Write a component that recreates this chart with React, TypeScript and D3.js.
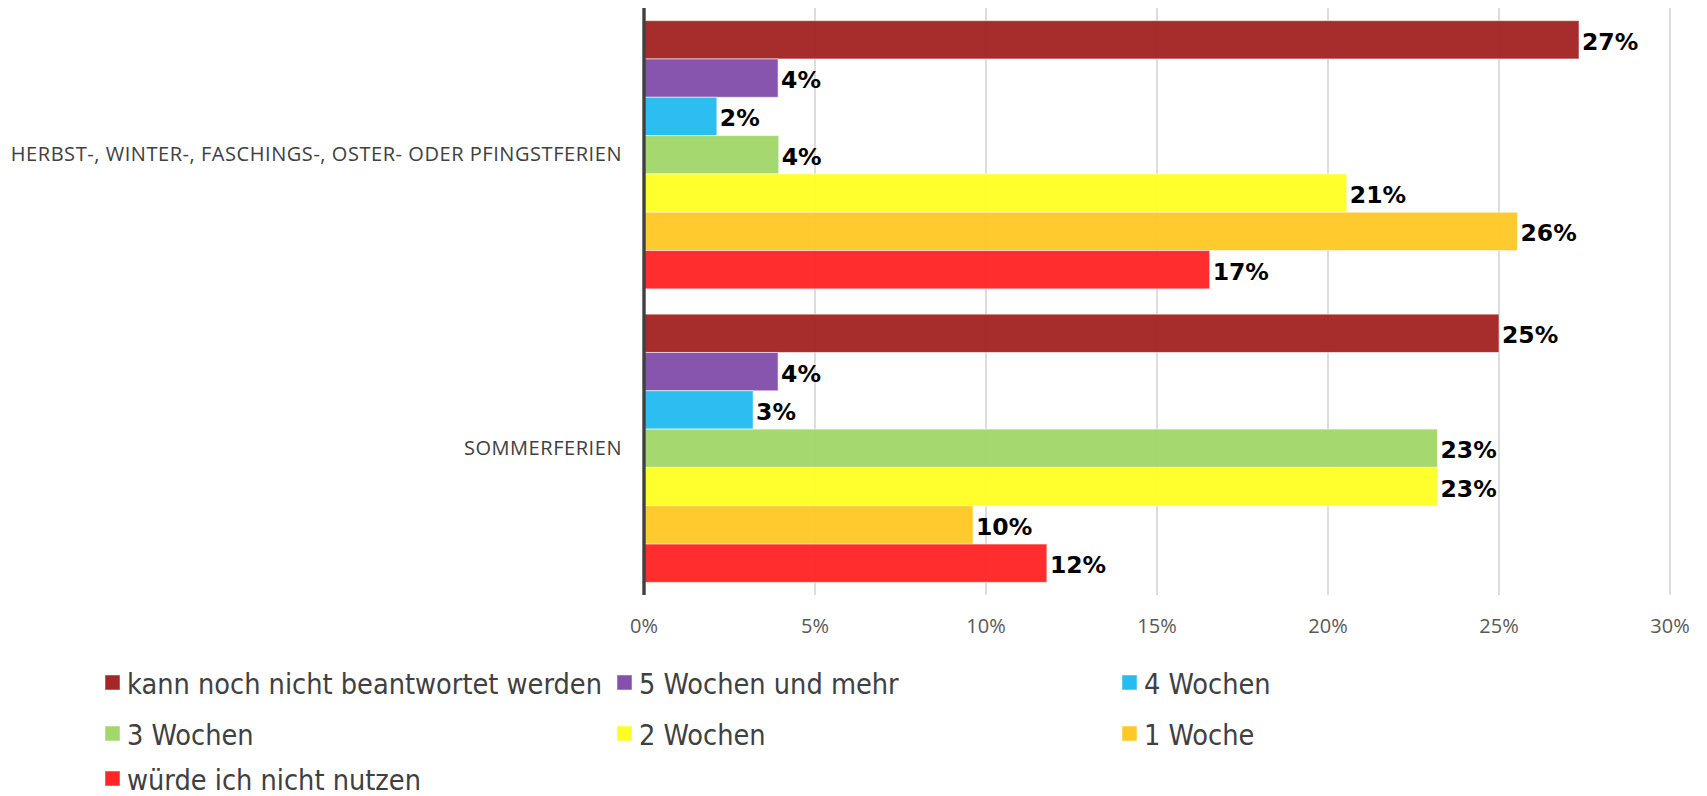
import { useEffect, useRef } from 'react';
import * as d3 from 'd3';

const categories = [
  'HERBST-, WINTER-, FASCHINGS-, OSTER- ODER PFINGSTFERIEN',
  'SOMMERFERIEN',
];

const seriesNames = [
  'kann noch nicht beantwortet werden',
  '5 Wochen und mehr',
  '4 Wochen',
  '3 Wochen',
  '2 Wochen',
  '1 Woche',
  'würde ich nicht nutzen',
];

const seriesColors = ['#A42626', '#8450AB', '#25BCF0', '#A2D86A', '#FFFF26', '#FFC826', '#FF2626'];

// one value per series, same order as seriesNames
const herbstValues = [0.2734, 0.0392, 0.0213, 0.0394, 0.2055, 0.2554, 0.1654];
const sommerValues = [0.25, 0.0392, 0.0319, 0.232, 0.232, 0.0962, 0.1178];

const xTicks = [0, 0.05, 0.1, 0.15, 0.2, 0.25, 0.3];

export default function App() {
  const svgRef = useRef<SVGSVGElement>(null);

  useEffect(() => {
    if (!svgRef.current) return;
    const svg = d3.select(svgRef.current);
    svg.selectAll('*').remove();

    const plot = { left: 644, right: 1670, top: 8, bottom: 595 };

    const x = d3.scaleLinear().domain([0, 0.3]).range([plot.left, plot.right]);
    const y = d3.scaleBand<string>().domain(categories).range([plot.top, plot.bottom]).padding(0);
    const ys = d3.scaleBand<string>()
      .domain(seriesNames)
      .range([0, y.bandwidth()])
      .paddingInner(0)
      .paddingOuter(0.33);

    const rows = categories.flatMap((c, ci) => {
      const vals = ci === 0 ? herbstValues : sommerValues;
      return seriesNames.map((s, si) => ({ cat: c, series: s, value: vals[si], color: seriesColors[si] }));
    });

    // grid lines
    svg.append('g')
      .selectAll('line')
      .data(xTicks.slice(1))
      .enter()
      .append('line')
      .attr('x1', d => x(d))
      .attr('x2', d => x(d))
      .attr('y1', plot.top)
      .attr('y2', plot.bottom)
      .attr('stroke', '#c6c6c6')
      .attr('stroke-width', 1.2);

    // bars
    svg.append('g')
      .selectAll('rect')
      .data(rows)
      .enter()
      .append('rect')
      .attr('x', x(0))
      .attr('y', d => (y(d.cat) || 0) + (ys(d.series) || 0))
      .attr('width', d => x(d.value) - x(0))
      .attr('height', ys.bandwidth())
      .attr('fill', d => d.color)
      .attr('fill-opacity', 0.97)
      .attr('stroke', 'rgba(255,255,255,0.55)')
      .attr('stroke-width', 1);

    // value labels
    svg.append('g')
      .selectAll('text')
      .data(rows)
      .enter()
      .append('text')
      .attr('x', d => x(d.value) + 3)
      .attr('y', d => (y(d.cat) || 0) + (ys(d.series) || 0) + ys.bandwidth() / 2 + 10)
      .attr('font-family', "'DejaVu Sans', Verdana, sans-serif")
      .attr('font-weight', 'bold')
      .attr('font-size', 23.5)
      .attr('fill', '#000')
      .text(d => d3.format('.0%')(d.value));

    // vertical axis line
    svg.append('line')
      .attr('x1', x(0))
      .attr('x2', x(0))
      .attr('y1', plot.top)
      .attr('y2', plot.bottom)
      .attr('stroke', '#404040')
      .attr('stroke-width', 3.4);

    // category labels
    svg.append('g')
      .selectAll('text')
      .data(categories)
      .enter()
      .append('text')
      .attr('x', 622)
      .attr('y', d => (y(d) || 0) + y.bandwidth() / 2 + 6.5)
      .attr('text-anchor', 'end')
      .attr('font-family', "'Open Sans', 'Noto Sans', sans-serif")
      .attr('font-size', 20)
      .attr('letter-spacing', 0.55)
      .attr('fill', '#404040')
      .text(d => d);

    // x tick labels
    svg.append('g')
      .selectAll('text')
      .data(xTicks)
      .enter()
      .append('text')
      .attr('x', d => x(d))
      .attr('y', 633)
      .attr('text-anchor', 'middle')
      .attr('font-family', "'Open Sans', 'Noto Sans', sans-serif")
      .attr('font-size', 20)
      .attr('fill', '#595959')
      .text(d => d3.format('.0%')(d));

    // legend
    const colX = [105, 617, 1122];
    const rowY = [694, 745, 790];
    const legend = svg.append('g')
      .selectAll('g')
      .data(seriesNames)
      .enter()
      .append('g')
      .attr('transform', (_d, i) => `translate(${colX[i % 3]},${rowY[Math.floor(i / 3)]})`);

    legend.append('rect')
      .attr('x', 0)
      .attr('y', -19)
      .attr('width', 15)
      .attr('height', 15)
      .attr('fill', (_d, i) => seriesColors[i])
      .attr('stroke', 'rgba(255,255,255,0.5)')
      .attr('stroke-width', 1);

    legend.append('text')
      .attr('x', 22)
      .attr('y', 0)
      .attr('font-family', "'DejaVu Sans Condensed', 'DejaVu Sans', sans-serif")
      .attr('font-stretch', 'condensed')
      .attr('font-size', 28.6)
      .attr('fill', '#404040')
      .text(d => d);
  }, []);

  return (
    <svg
      ref={svgRef}
      width={1707}
      height={796}
      style={{ position: 'absolute', left: 0, top: 0, background: '#fff' }}
    />
  );
}
